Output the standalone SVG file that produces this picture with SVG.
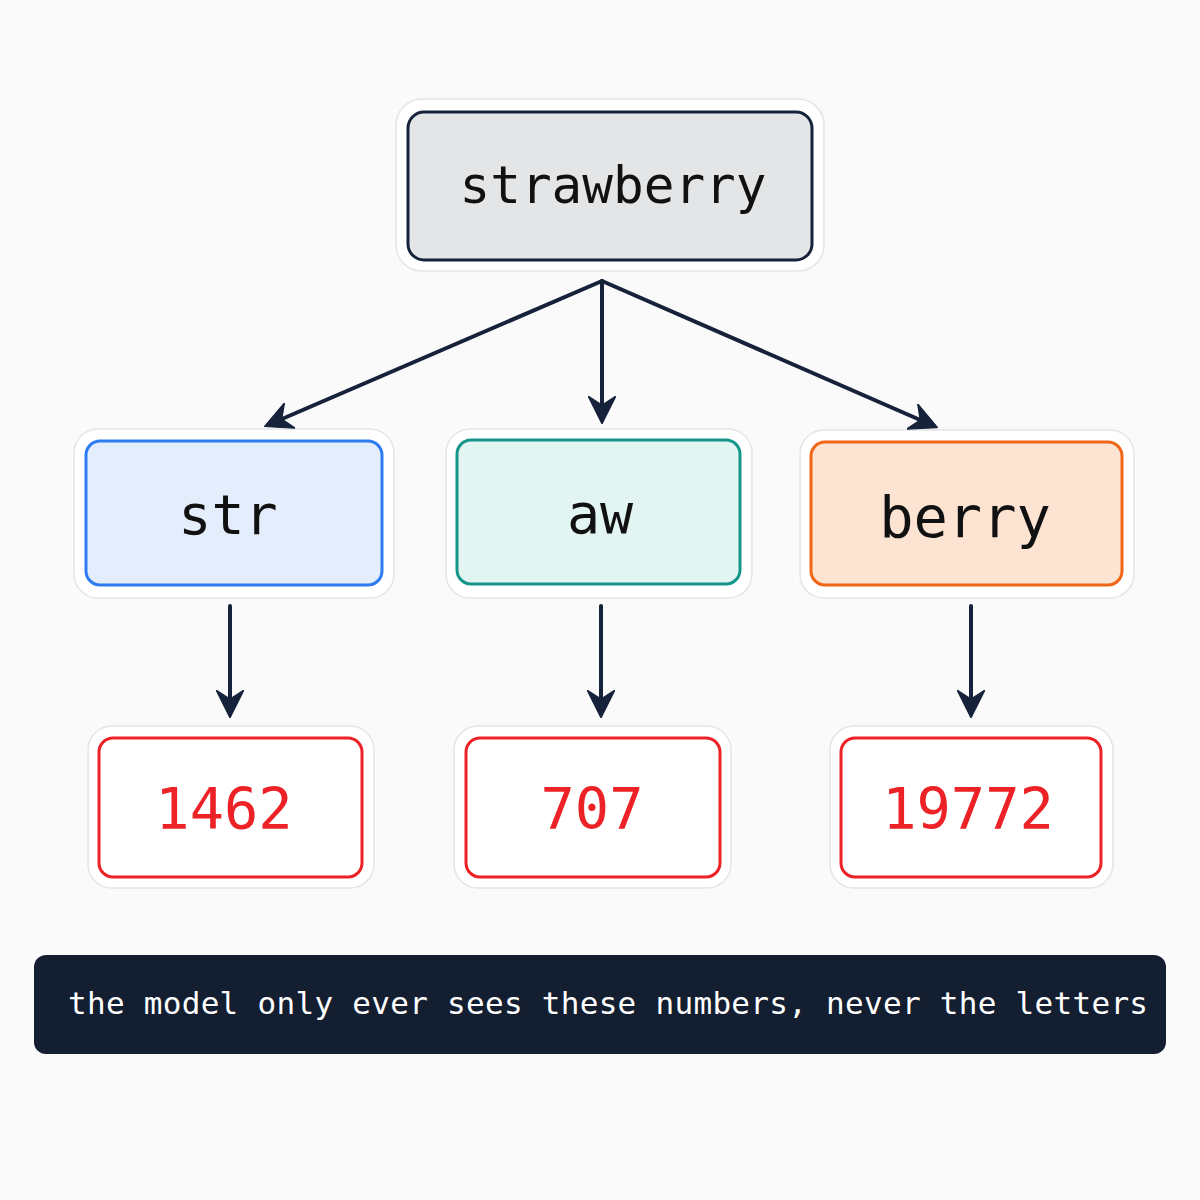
<svg xmlns="http://www.w3.org/2000/svg" width="1200" height="1200" viewBox="0 0 1200 1200">
<defs>
<style>
.halo{fill:#ffffff;stroke:#e4e5e8;stroke-width:1.5}
.mono{font-family:"DejaVu Sans Mono","Liberation Mono",monospace;text-anchor:middle}
.lbl{fill:#111111}
.num{fill:#ec2227}
.conn{stroke:#16223a;stroke-width:4;fill:none;stroke-linecap:round}
</style>
<marker id="ah" viewBox="0 0 10 10" refX="8.6" refY="5" markerWidth="28" markerHeight="28" markerUnits="userSpaceOnUse" orient="auto">
<path d="M0,0 L10,5 L0,10 L3.2,5 Z" fill="#16223a" stroke="#16223a" stroke-width="0.4" stroke-linejoin="round"/>
</marker>
</defs>
<rect width="1200" height="1200" fill="#fafafb"/>

<g id="node-strawberry">
<rect class="halo" x="396" y="99" width="428" height="172" rx="26"/>
<rect x="408" y="112" width="404" height="148" rx="16" fill="#e4e5e7" stroke="#16223a" stroke-width="3"/>
<text class="mono lbl" x="613" y="203" font-size="51">strawberry</text>
</g>

<g id="node-str">
<rect class="halo" x="74" y="429" width="320" height="169" rx="24"/>
<rect x="86" y="441" width="296" height="144" rx="14" fill="#e3edfb" stroke="#2f7cf2" stroke-width="3"/>
<text class="mono lbl" x="228" y="534" font-size="55">str</text>
</g>

<g id="node-aw">
<rect class="halo" x="446" y="429" width="306" height="169" rx="24"/>
<rect x="457" y="440" width="283" height="144" rx="14" fill="#e3f5f2" stroke="#15968a" stroke-width="3"/>
<text class="mono lbl" x="600" y="533" font-size="55">aw</text>
</g>

<g id="node-berry">
<rect class="halo" x="800" y="430" width="334" height="168" rx="24"/>
<rect x="811" y="442" width="311" height="143" rx="14" fill="#fce3d2" stroke="#f26618" stroke-width="3"/>
<text class="mono lbl" x="965" y="537" font-size="57">berry</text>
</g>

<g id="node-1462">
<rect class="halo" x="88" y="726" width="286" height="162" rx="24"/>
<rect x="99" y="738" width="263" height="139" rx="14" fill="#ffffff" stroke="#ec2227" stroke-width="3"/>
<text class="mono num" x="224" y="829" font-size="57">1462</text>
</g>

<g id="node-707">
<rect class="halo" x="454" y="726" width="277" height="162" rx="24"/>
<rect x="466" y="738" width="254" height="139" rx="14" fill="#ffffff" stroke="#ec2227" stroke-width="3"/>
<text class="mono num" x="592" y="829" font-size="57">707</text>
</g>

<g id="node-19772">
<rect class="halo" x="830" y="726" width="283" height="162" rx="24"/>
<rect x="841" y="738" width="260" height="139" rx="14" fill="#ffffff" stroke="#ec2227" stroke-width="3"/>
<text class="mono num" x="968" y="829" font-size="57">19772</text>
</g>

<g id="connectors">
<path class="conn" d="M602,281 L268,425" marker-end="url(#ah)"/>
<path class="conn" d="M602,281 L602,420" marker-end="url(#ah)"/>
<path class="conn" d="M602,281 L934,426" marker-end="url(#ah)"/>
<path class="conn" d="M230,606 L230,714" marker-end="url(#ah)"/>
<path class="conn" d="M601,606 L601,714" marker-end="url(#ah)"/>
<path class="conn" d="M971,606 L971,714" marker-end="url(#ah)"/>
</g>

<g id="caption">
<rect x="34" y="955" width="1132" height="99" rx="12" fill="#131e31"/>
<text x="68" y="1014" font-family="DejaVu Sans Mono,Liberation Mono,monospace" font-size="31" fill="#ffffff" textLength="1080" lengthAdjust="spacing">the model only ever sees these numbers, never the letters</text>
</g>
</svg>
